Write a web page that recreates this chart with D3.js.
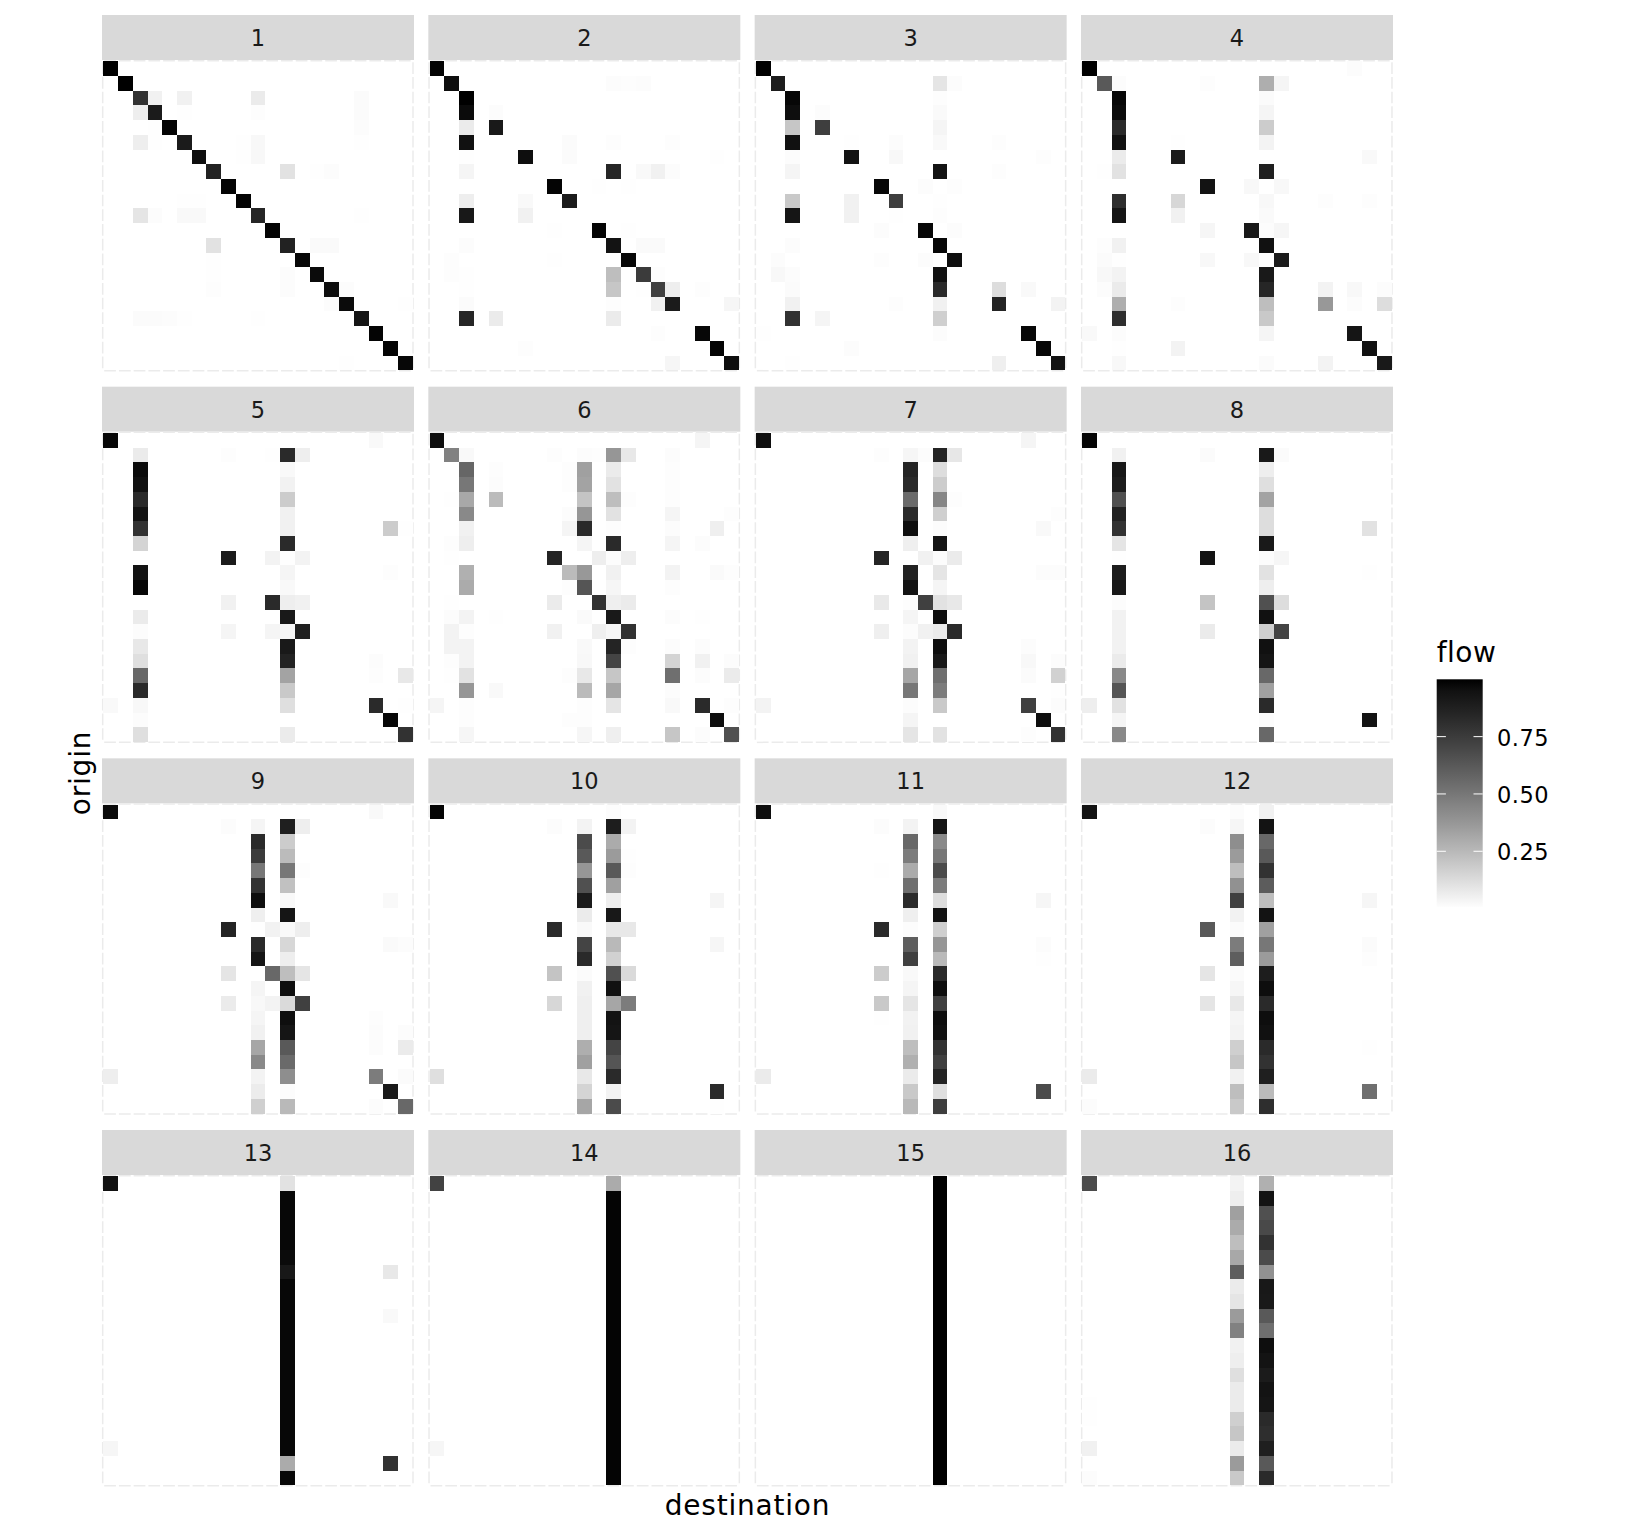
<!DOCTYPE html>
<html>
<head>
<meta charset="utf-8">
<script src="https://cdn.jsdelivr.net/npm/d3@7"></script>
<style>
html,body{margin:0;padding:0;background:#fff}
svg{display:block}
text{font-family:"DejaVu Sans",sans-serif}
</style>
</head>
<body>
<div id="chart"></div>
<script>
// each entry: [origin, destination, flow]
const panel1=[[0,0,1],[1,1,1],[2,2,.79],[3,3,.9],[4,4,.99],[5,5,.9],[6,6,.96],[7,7,.87],[8,8,.99],[9,9,.99],[10,10,.85],[11,11,.99],[12,12,.87],[13,13,.98],[14,14,.97],[15,15,.96],[16,16,.97],[17,17,.93],[18,18,.99],[19,19,.99],[20,20,.98],
[2,3,.05],[2,5,.05],[2,10,.07],[2,17,.015],[3,2,.06],[3,5,.004],[3,10,.008],[3,17,.015],[4,3,.003],[4,17,.01],[5,2,.06],[5,3,.004],[5,10,.025],[5,9,.003],[5,17,.003],[6,10,.025],[6,9,.004],[7,12,.1],[7,15,.01],[7,14,.002],[9,5,.003],[9,6,.003],[10,2,.09],[10,3,.012],[10,5,.02],[10,6,.02],[10,17,.004],[12,7,.1],[12,14,.018],[12,15,.018],[13,7,.002],[14,12,.01],[14,7,.002],[15,7,.008],[15,12,.01],[15,16,.01],[16,15,.01],[16,20,.004],[17,2,.015],[17,3,.015],[17,4,.012],[17,5,.004],[17,10,.005],[20,16,.004]];
const panel2=[[0,0,.99],[1,1,.96],[1,12,.012],[1,13,.006],[1,14,.01],[2,2,1],[3,2,.97],[3,4,.012],[4,2,.07],[4,4,.91],[5,2,.95],[5,9,.015],[5,12,.006],[5,16,.006],[6,2,.003],[6,6,.96],[6,9,.015],[6,19,.002],[7,2,.035],[7,12,.85],[7,14,.02],[7,15,.05],[7,16,.012],[8,8,.99],[8,11,.002],[8,13,.003],[9,2,.06],[9,6,.02],[9,9,.9],[10,2,.92],[10,6,.05],[10,9,.001],[11,8,.004],[11,11,.99],[11,13,.003],[12,2,.012],[12,12,.94],[12,14,.018],[12,15,.018],[13,1,.008],[13,8,.002],[13,13,.98],[14,1,.008],[14,2,.003],[14,12,.23],[14,14,.75],[14,15,.008],[15,2,.005],[15,12,.2],[15,14,.003],[15,15,.73],[15,16,.06],[15,18,.008],[16,2,.015],[16,12,.008],[16,15,.05],[16,16,.9],[16,20,.03],[17,2,.85],[17,4,.07],[17,12,.07],[18,15,.006],[18,18,.98],[19,6,.006],[19,19,.99],[20,16,.03],[20,20,.96]];
const panel3=[[0,0,1],[1,1,.89],[1,12,.09],[1,13,.012],[2,2,.98],[2,12,.008],[3,2,.96],[3,4,.012],[3,12,.018],[4,2,.2],[4,4,.74],[4,12,.035],[5,2,.95],[5,9,.012],[5,12,.02],[5,16,.006],[5,6,.002],[6,2,.012],[6,6,.94],[6,9,.025],[6,19,.006],[7,2,.035],[7,12,.94],[7,16,.008],[8,8,.98],[8,11,.01],[8,13,.008],[9,2,.19],[9,6,.05],[9,9,.74],[9,12,.002],[10,2,.93],[10,6,.05],[10,9,.002],[10,12,.008],[11,8,.01],[11,11,.98],[11,13,.01],[12,2,.012],[12,12,.98],[13,1,.01],[13,8,.006],[13,11,.01],[13,13,.96],[14,1,.025],[14,2,.012],[14,12,.95],[15,2,.015],[15,12,.83],[15,16,.12],[15,18,.02],[16,2,.05],[16,9,.006],[16,12,.05],[16,16,.86],[16,20,.04],[17,2,.79],[17,4,.035],[17,12,.17],[18,0,.002],[18,12,.01],[18,18,.98],[19,6,.01],[19,19,.98],[20,2,.002],[20,16,.055],[20,20,.94]];
const panel4=[[0,0,1],[0,18,.012],[1,1,.62],[1,2,.012],[1,8,.006],[1,12,.29],[1,13,.035],[2,2,.98],[2,12,.015],[3,2,.97],[3,12,.035],[4,2,.83],[4,12,.18],[5,2,.95],[5,12,.04],[5,6,.002],[6,2,.07],[6,6,.9],[6,19,.02],[7,1,.005],[7,2,.1],[7,12,.88],[8,8,.94],[8,11,.025],[8,13,.025],[9,2,.81],[9,6,.14],[9,12,.025],[9,16,.006],[9,19,.008],[10,2,.93],[10,6,.05],[10,12,.018],[11,8,.03],[11,11,.91],[11,12,.012],[11,13,.03],[12,1,.006],[12,2,.05],[12,12,.95],[13,1,.015],[13,2,.004],[13,8,.025],[13,11,.025],[13,12,.003],[13,13,.9],[14,1,.025],[14,2,.04],[14,12,.91],[15,1,.012],[15,2,.07],[15,12,.85],[15,16,.04],[15,18,.025],[15,20,.01],[16,2,.29],[16,6,.008],[16,12,.23],[16,16,.37],[16,18,.01],[16,20,.12],[17,2,.81],[17,12,.19],[18,0,.02],[18,2,.01],[18,12,.035],[18,18,.93],[19,2,.003],[19,6,.04],[19,19,.95],[20,2,.025],[20,12,.015],[20,16,.04],[20,20,.91]];
const panel5=[[0,0,.98],[0,18,.02],[1,2,.07],[1,8,.008],[1,11,.004],[1,12,.83],[1,13,.06],[2,2,.97],[2,12,.02],[3,2,.95],[3,12,.045],[4,2,.83],[4,12,.18],[5,2,.94],[5,12,.05],[6,2,.79],[6,12,.05],[6,19,.18],[6,20,.004],[7,2,.15],[7,12,.83],[8,8,.9],[8,11,.04],[8,12,.002],[8,13,.04],[9,2,.94],[9,12,.035],[9,19,.008],[10,2,.98],[10,12,.02],[11,8,.05],[11,11,.83],[11,12,.06],[11,13,.05],[12,2,.07],[12,12,.91],[13,2,.012],[13,8,.035],[13,11,.035],[13,12,.03],[13,13,.88],[14,2,.08],[14,12,.91],[15,2,.11],[15,12,.87],[15,18,.012],[16,2,.56],[16,12,.33],[16,18,.006],[16,20,.08],[17,2,.83],[17,12,.19],[18,0,.02],[18,2,.025],[18,12,.11],[18,18,.83],[18,20,.003],[19,2,.012],[19,19,.98],[20,2,.11],[20,12,.07],[20,20,.79]];
const panel6=[[0,0,.96],[0,18,.035],[1,1,.46],[1,2,.02],[1,8,.008],[1,10,.012],[1,11,.008],[1,12,.38],[1,13,.08],[1,16,.012],[2,2,.57],[2,4,.008],[2,9,.008],[2,10,.34],[2,12,.07],[2,16,.008],[3,2,.5],[3,4,.012],[3,9,.008],[3,10,.33],[3,12,.1],[3,16,.006],[4,1,.004],[4,2,.31],[4,4,.24],[4,10,.21],[4,12,.23],[4,13,.006],[4,16,.006],[5,2,.43],[5,9,.012],[5,10,.38],[5,12,.1],[5,16,.035],[5,20,.006],[6,2,.05],[6,9,.035],[6,10,.83],[6,12,.008],[6,16,.012],[6,19,.055],[7,1,.006],[7,2,.06],[7,10,.035],[7,12,.83],[7,16,.035],[7,18,.01],[8,1,.005],[8,8,.86],[8,11,.06],[8,12,.01],[8,13,.06],[9,2,.28],[9,9,.24],[9,10,.37],[9,12,.05],[9,16,.04],[9,19,.018],[9,20,.006],[10,2,.3],[10,9,.008],[10,10,.64],[10,12,.03],[10,16,.008],[11,1,.004],[11,8,.07],[11,11,.79],[11,12,.055],[11,13,.07],[12,1,.01],[12,2,.04],[12,4,.004],[12,10,.018],[12,12,.91],[12,16,.012],[12,18,.003],[13,1,.04],[13,2,.008],[13,8,.05],[13,11,.055],[13,12,.03],[13,13,.79],[14,1,.04],[14,2,.04],[14,10,.02],[14,12,.86],[14,13,.006],[14,16,.012],[14,18,.012],[15,1,.008],[15,2,.04],[15,10,.025],[15,12,.71],[15,16,.15],[15,18,.05],[15,20,.012],[16,1,.004],[16,2,.1],[16,9,.006],[16,10,.08],[16,12,.2],[16,16,.53],[16,18,.012],[16,20,.07],[17,2,.38],[17,4,.02],[17,10,.24],[17,12,.32],[17,16,.01],[18,0,.035],[18,2,.008],[18,10,.006],[18,12,.09],[18,16,.02],[18,18,.83],[18,20,.006],[19,2,.006],[19,9,.006],[19,10,.008],[19,19,.96],[20,2,.03],[20,10,.03],[20,12,.055],[20,16,.2],[20,18,.01],[20,20,.66]];
const panel7=[[0,0,.96],[0,18,.035],[1,8,.008],[1,10,.03],[1,11,.01],[1,12,.86],[1,13,.085],[2,10,.86],[2,12,.12],[3,10,.83],[3,12,.18],[4,10,.55],[4,12,.44],[4,13,.008],[5,10,.83],[5,12,.17],[5,20,.006],[6,10,.96],[6,12,.01],[6,19,.02],[7,10,.055],[7,12,.93],[8,8,.86],[8,11,.05],[8,12,.01],[8,13,.07],[9,10,.87],[9,12,.09],[9,19,.012],[9,20,.012],[10,10,.94],[10,12,.035],[11,8,.075],[11,10,.006],[11,11,.73],[11,12,.1],[11,13,.08],[12,10,.035],[12,12,.96],[13,8,.055],[13,10,.012],[13,11,.05],[13,12,.07],[13,13,.83],[14,10,.04],[14,12,.96],[14,18,.012],[15,10,.05],[15,12,.91],[15,18,.025],[15,20,.012],[16,10,.32],[16,12,.53],[16,18,.015],[16,20,.16],[17,10,.5],[17,12,.48],[17,20,.003],[18,0,.04],[18,10,.01],[18,12,.19],[18,18,.73],[18,20,.01],[19,10,.035],[19,19,.96],[20,10,.09],[20,12,.1],[20,18,.008],[20,20,.79]];
const panel8=[[0,0,.99],[1,2,.05],[1,8,.015],[1,12,.91],[1,13,.015],[2,2,.92],[2,12,.06],[3,2,.89],[3,12,.11],[4,2,.66],[4,12,.33],[5,2,.87],[5,12,.12],[6,2,.79],[6,12,.12],[6,19,.1],[7,2,.09],[7,12,.91],[8,2,.002],[8,8,.94],[8,12,.012],[8,13,.03],[9,2,.89],[9,12,.1],[9,19,.005],[10,2,.92],[10,12,.06],[11,2,.01],[11,8,.21],[11,12,.66],[11,13,.12],[12,2,.045],[12,12,.95],[13,2,.045],[13,8,.07],[13,12,.17],[13,13,.71],[14,2,.045],[14,12,.95],[15,2,.07],[15,12,.93],[16,2,.43],[16,12,.56],[17,2,.64],[17,12,.34],[18,0,.06],[18,2,.1],[18,12,.83],[19,2,.035],[19,12,.01],[19,19,.94],[20,2,.43],[20,12,.56]];
const panel9=[[0,0,.97],[0,18,.02],[1,8,.01],[1,10,.035],[1,12,.88],[1,13,.06],[2,10,.83],[2,12,.18],[3,10,.75],[3,12,.24],[4,10,.5],[4,12,.5],[4,13,.006],[5,10,.79],[5,12,.22],[6,10,.96],[6,12,.02],[6,19,.02],[7,10,.055],[7,12,.93],[8,8,.86],[8,10,.002],[8,11,.045],[8,12,.02],[8,13,.06],[9,10,.83],[9,12,.14],[9,19,.018],[9,20,.01],[10,10,.93],[10,12,.06],[11,8,.09],[11,11,.56],[11,12,.23],[11,13,.09],[12,10,.035],[12,12,.96],[13,8,.07],[13,10,.025],[13,11,.04],[13,12,.13],[13,13,.73],[14,10,.035],[14,12,.96],[14,18,.008],[15,10,.05],[15,12,.93],[15,18,.012],[15,20,.012],[16,10,.32],[16,12,.62],[16,18,.012],[16,20,.07],[17,10,.43],[17,12,.55],[18,0,.06],[18,10,.04],[18,12,.41],[18,18,.48],[18,20,.015],[19,10,.065],[19,12,.012],[19,19,.91],[20,10,.17],[20,12,.25],[20,18,.01],[20,20,.56]];
const panel10=[[0,0,.99],[0,12,.012],[1,8,.012],[1,10,.04],[1,12,.89],[1,13,.04],[2,10,.68],[2,12,.3],[3,10,.62],[3,12,.36],[3,13,.004],[4,10,.38],[4,12,.62],[4,13,.006],[5,10,.66],[5,12,.34],[6,10,.9],[6,12,.06],[6,19,.035],[7,10,.07],[7,12,.92],[8,8,.83],[8,10,.02],[8,12,.08],[8,13,.08],[9,10,.71],[9,12,.25],[9,19,.03],[10,10,.83],[10,12,.16],[11,8,.21],[11,10,.015],[11,12,.66],[11,13,.13],[12,10,.05],[12,12,.95],[13,8,.14],[13,10,.055],[13,12,.32],[13,13,.48],[14,10,.055],[14,12,.94],[15,10,.055],[15,12,.93],[16,10,.29],[16,12,.71],[17,10,.34],[17,12,.64],[18,0,.11],[18,10,.08],[18,12,.83],[19,10,.15],[19,12,.04],[19,19,.83],[20,10,.32],[20,12,.68],[20,19,.002]];
const panel11=[[0,0,.96],[0,12,.02],[1,8,.012],[1,10,.04],[1,12,.93],[2,10,.56],[2,12,.43],[3,10,.48],[3,12,.5],[4,8,.004],[4,10,.3],[4,12,.68],[5,10,.53],[5,12,.48],[6,10,.83],[6,12,.12],[6,19,.03],[7,10,.055],[7,12,.94],[8,8,.83],[8,10,.012],[8,12,.17],[9,10,.6],[9,12,.38],[9,19,.012],[10,10,.73],[10,12,.25],[10,19,.002],[11,8,.18],[11,10,.02],[11,12,.83],[12,10,.035],[12,12,.96],[13,8,.19],[13,10,.09],[13,12,.73],[14,8,.002],[14,10,.045],[14,12,.96],[15,10,.05],[15,12,.95],[16,10,.23],[16,12,.79],[17,10,.28],[17,12,.73],[18,0,.07],[18,10,.07],[18,12,.86],[19,10,.19],[19,12,.11],[19,19,.68],[20,10,.25],[20,12,.74]];
const panel12=[[0,0,.94],[0,10,.012],[0,12,.05],[1,8,.01],[1,10,.03],[1,12,.94],[2,10,.41],[2,12,.56],[3,10,.36],[3,12,.62],[4,10,.23],[4,12,.79],[5,10,.4],[5,12,.61],[6,10,.73],[6,12,.23],[6,19,.03],[7,10,.045],[7,12,.94],[8,8,.62],[8,10,.015],[8,12,.34],[9,10,.48],[9,12,.5],[9,19,.015],[10,10,.6],[10,12,.36],[10,19,.006],[11,8,.09],[11,10,.015],[11,12,.89],[12,10,.03],[12,12,.96],[13,8,.09],[13,10,.08],[13,12,.83],[14,10,.035],[14,12,.96],[15,10,.04],[15,12,.95],[16,10,.17],[16,12,.83],[16,19,.002],[17,10,.2],[17,12,.79],[18,0,.07],[18,10,.05],[18,12,.88],[19,10,.23],[19,12,.24],[19,19,.53],[20,0,.01],[20,10,.19],[20,12,.81]];
const panel13=[[0,0,.95],[0,12,.1],[1,12,.98],[2,12,.98],[3,12,.98],[4,12,.98],[5,12,.97],[6,12,.92],[6,19,.08],[7,12,.98],[8,12,.98],[9,12,.98],[9,19,.02],[10,12,.98],[11,12,.98],[12,12,.98],[13,12,.98],[14,12,.98],[15,12,.98],[16,12,.98],[17,12,.98],[18,0,.03],[18,12,.98],[19,12,.3],[19,19,.79],[20,12,.98]];
const panel14=[[0,0,.72],[0,12,.3],[1,12,.99],[2,12,.99],[3,12,.99],[4,12,.99],[5,12,.99],[6,12,.99],[7,12,.99],[8,12,.99],[9,12,.99],[10,12,.99],[11,12,.99],[12,12,.99],[13,12,.99],[14,12,.99],[15,12,.99],[16,12,.99],[17,12,.99],[18,0,.03],[18,12,.99],[19,12,.99],[20,12,.99]];
const panel15=[[0,12,1],[1,12,1],[2,12,1],[3,12,1],[4,12,1],[5,12,1],[6,12,1],[7,12,1],[8,12,1],[9,12,1],[10,12,1],[11,12,1],[12,12,1],[13,12,1],[14,12,1],[15,12,1],[16,12,1],[17,12,1],[18,12,1],[19,12,1],[20,12,1]];
const panel16=[[0,0,.68],[15,0,.004],[16,0,.004],[18,0,.05],[20,0,.01],
[0,10,.04],[1,10,.06],[2,10,.34],[3,10,.3],[4,10,.23],[5,10,.31],[6,10,.6],[7,10,.07],[8,10,.09],[9,10,.36],[10,10,.46],[11,10,.05],[12,10,.06],[13,10,.11],[14,10,.07],[15,10,.07],[16,10,.17],[17,10,.2],[18,10,.07],[19,10,.36],[20,10,.19],
[0,12,.28],[1,12,.94],[2,12,.66],[3,12,.69],[4,12,.79],[5,12,.68],[6,12,.4],[7,12,.92],[8,12,.91],[9,12,.62],[10,12,.53],[11,12,.96],[12,12,.94],[13,12,.9],[14,12,.94],[15,12,.93],[16,12,.83],[17,12,.81],[18,12,.88],[19,12,.62],[20,12,.83]];
const panels=[panel1,panel2,panel3,panel4,panel5,panel6,panel7,panel8,panel9,panel10,panel11,panel12,panel13,panel14,panel15,panel16];
const legendTicks=[0.25,0.5,0.75];
const legendDomain=[0.007,1];

const W=1632,H=1536;
const svg=d3.select("#chart").append("svg").attr("width",W).attr("height",H);
const color=d3.scaleLinear().domain([0,1]).range(["#ffffff","#000000"]).interpolate(d3.interpolateLab);

const cellIds=d3.range(21);
const panelW=312,panelH=311,stripH=45,pitchX=326.33,pitchY=371.67,plotLeft=102,plotTop=60;
const xScale=d3.scaleBand().domain(cellIds).range([1.3,310.7]);
const yScale=d3.scaleBand().domain(cellIds).range([1.3,310.3]);

panels.forEach((cells,i)=>{
  const col=i%4,row=Math.floor(i/4);
  const g=svg.append("g").attr("transform",`translate(${plotLeft+col*pitchX},${plotTop+row*pitchY})`);
  g.append("rect").attr("x",0).attr("y",-stripH).attr("width",panelW).attr("height",stripH).attr("fill","#d9d9d9");
  g.append("text").attr("x",panelW/2).attr("y",-stripH/2).attr("dy","0.38em").attr("text-anchor","middle")
    .attr("font-size",22.5).attr("fill","#1a1a1a").text(i+1);
  const bw=xScale.bandwidth(),bh=yScale.bandwidth();
  const edges=[[0.7,0.7,311,0.7,bw],[0.7,310.7,311,310.7,bw],[0.7,0.7,0.7,310.7,bh],[311,0.7,311,310.7,bh]];
  g.selectAll("line.edge").data(edges).enter().append("line").attr("class","edge")
    .attr("x1",d=>d[0]).attr("y1",d=>d[1]).attr("x2",d=>d[2]).attr("y2",d=>d[3])
    .attr("stroke","#ebebeb").attr("stroke-width",1.5)
    .attr("stroke-dasharray",d=>`${d[4]-3} 3`).attr("stroke-dashoffset",-1.5);
  g.selectAll("rect.cell").data(cells).enter().append("rect").attr("class","cell")
    .attr("x",d=>xScale(d[1])).attr("y",d=>yScale(d[0]))
    .attr("width",bw).attr("height",bh).attr("fill",d=>color(d[2]))
    .attr("shape-rendering","crispEdges");
});

// axis titles
svg.append("text").attr("x",747.5).attr("y",1515).attr("text-anchor","middle").attr("font-size",28).attr("letter-spacing",0.8).attr("fill","#000").text("destination");
svg.append("text").attr("transform","translate(90,773) rotate(-90)").attr("text-anchor","middle").attr("font-size",28).attr("letter-spacing",0.8).attr("fill","#000").text("origin");

// legend
const legendY=d3.scaleLinear().domain(legendDomain).range([907,679.3]);
const defs=svg.append("defs");
const grad=defs.append("linearGradient").attr("id","flowGrad").attr("x1",0).attr("x2",0).attr("y1",1).attr("y2",0);
d3.range(0,1.0001,0.05).forEach(t=>{
  grad.append("stop").attr("offset",t).attr("stop-color",color(legendDomain[0]+t*(legendDomain[1]-legendDomain[0])));
});
const lx=1436.7,lw=46;
svg.append("rect").attr("x",lx).attr("y",legendY(legendDomain[1])).attr("width",lw)
  .attr("height",legendY(legendDomain[0])-legendY(legendDomain[1])).attr("fill","url(#flowGrad)");
svg.append("text").attr("x",lx).attr("y",661.5).attr("font-size",28).attr("letter-spacing",0.5).attr("fill","#000").text("flow");
legendTicks.forEach(v=>{
  const y=legendY(v);
  svg.append("line").attr("x1",lx).attr("x2",lx+lw/5).attr("y1",y).attr("y2",y).attr("stroke","#fff").attr("stroke-width",1);
  svg.append("line").attr("x1",lx+lw-lw/5).attr("x2",lx+lw).attr("y1",y).attr("y2",y).attr("stroke","#fff").attr("stroke-width",1);
  svg.append("text").attr("x",1497).attr("y",y).attr("dy","0.4em").attr("font-size",22.5).attr("letter-spacing",0.5).attr("fill","#000").text(d3.format(".2f")(v));
});
</script>
</body>
</html>
